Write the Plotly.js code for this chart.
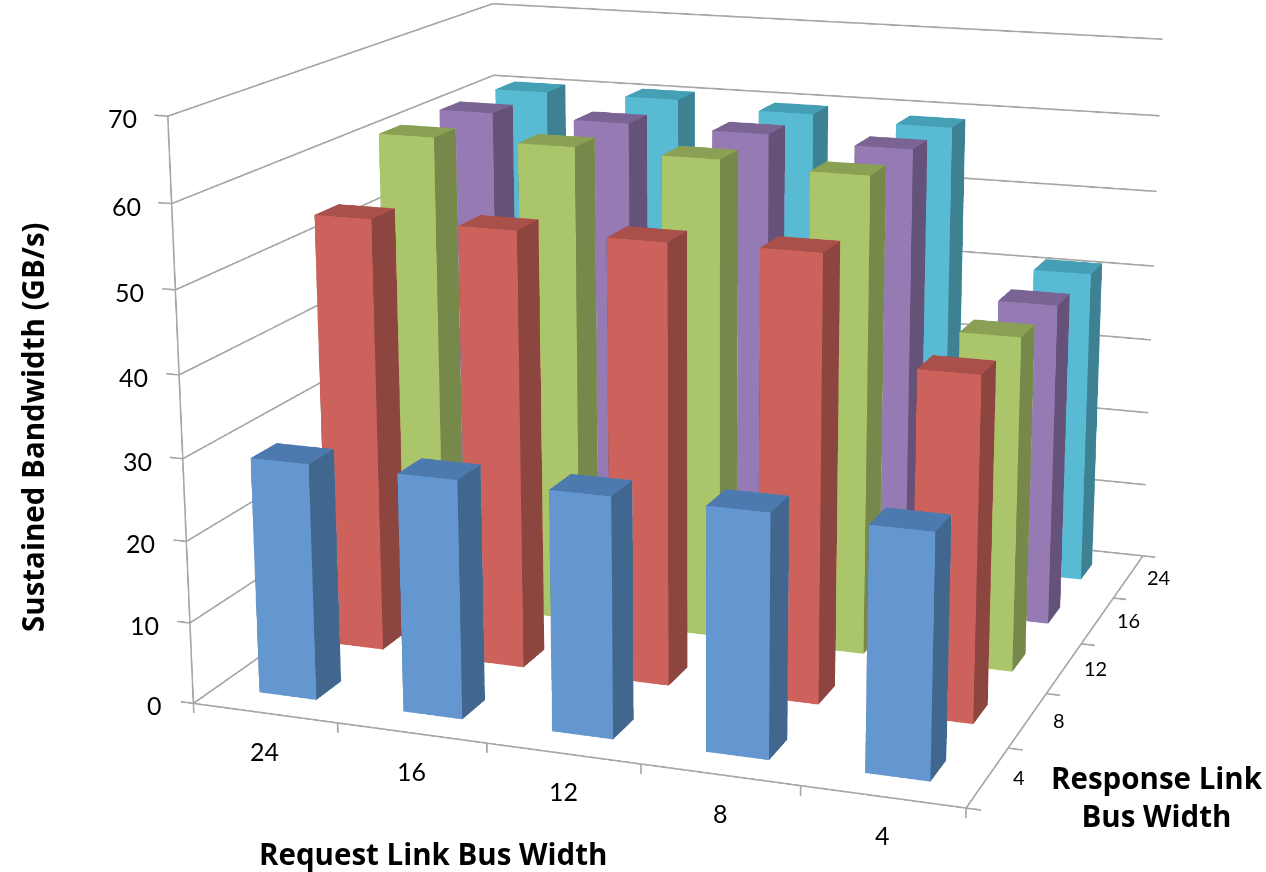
<!DOCTYPE html>
<html>
<head>
<meta charset="utf-8">
<script src="https://cdn.plot.ly/plotly-3.0.1.min.js"></script>
<style>
html,body{margin:0;padding:0;background:#fff;overflow:hidden;width:1266px;height:872px}
#frame{position:absolute;left:0;top:0;width:1266px;height:872px;overflow:hidden}
#plot{position:absolute}
</style>
</head>
<body>
<div id="frame"><div id="plot"></div></div>
<script>
// Sustained bandwidth by request and response link bus width
const requestWidths = ['24','16','12','8','4'];
const responseWidths = ['4','8','12','16','24'];
const resp4  = [29, 29, 29, 29.1, 28.9];
const resp8  = [54.2, 54.2, 54.2, 54.4, 41.8];
const resp12 = [60.8, 60.8, 60.5, 59.8, 41.7];
const resp16 = [60.7, 60.5, 60.3, 59.6, 41.3];
const resp24 = [60.4, 60.5, 59.7, 59.1, 41.2];
const seriesValues = [resp4, resp8, resp12, resp16, resp24];
const frontColors = ['#6497CF','#CD625D','#ABC56A','#957AB4','#58BAD3'];
const sideColors  = ['#41678F','#8D4540','#77894A','#655278','#3D8193'];
const topColors   = ['#4D7AAE','#A9504B','#8AA155','#7A6494','#45A0B6'];
const zTicks = [0,10,20,30,40,50,60,70];

// Long lens: the scene is laid out larger than the visible frame to narrow the field of view
const scale = 3, W = 1266*scale, H = 872*scale;
const centerPx = [700, 364];
const left = centerPx[0]-W/2, top_ = centerPx[1]-H/2;
const plot = document.getElementById('plot');
plot.style.left = left+'px'; plot.style.top = top_+'px';
plot.style.width = W+'px'; plot.style.height = H+'px';
const paperX = px => (px-left)/W, paperY = py => 1-(py-top_)/H;

const halfX = 0.2, halfY = 0.18;
function barMesh(row){
  const x=[],y=[],z=[],i=[],j=[],k=[],fc=[];
  const quad=(a,b,c,d,col)=>{i.push(a,a);j.push(b,c);k.push(c,d);fc.push(col,col);};
  seriesValues[row].forEach((v,col)=>{
    const n=x.length, x0=col+0.5-halfX,x1=col+0.5+halfX,y0=row+0.5-halfY,y1=row+0.5+halfY;
    [[x0,y0,0],[x1,y0,0],[x1,y1,0],[x0,y1,0],[x0,y0,v],[x1,y0,v],[x1,y1,v],[x0,y1,v]]
      .forEach(p=>{x.push(p[0]);y.push(p[1]);z.push(p[2]);});
    quad(n,n+1,n+5,n+4,frontColors[row]);
    quad(n+1,n+2,n+6,n+5,sideColors[row]);
    quad(n+4,n+5,n+6,n+7,topColors[row]);
    quad(n+3,n,n+4,n+7,sideColors[row]);
    quad(n+2,n+3,n+7,n+6,frontColors[row]);
  });
  return {type:'mesh3d',x,y,z,i,j,k,facecolor:fc,flatshading:true,hoverinfo:'skip',showscale:false,
    lighting:{ambient:1,diffuse:0,specular:0,roughness:1,fresnel:0},lightposition:{x:0,y:0,z:1000}};
}

// Walls, floor edges and tick marks as one broken polyline
const nCols = requestWidths.length, nRows = responseWidths.length, zMax = zTicks[zTicks.length-1];
const tickX = 0.09, tickZ = 1.2;
const fx=[],fy=[],fz=[];
const seg=(a,b)=>{fx.push(a[0],b[0],null);fy.push(a[1],b[1],null);fz.push(a[2],b[2],null);};
zTicks.forEach(t=>{
  seg([0,0,t],[0,nRows,t]);
  seg([0,nRows,t],[nCols,nRows,t]);
  seg([-tickX,0,t],[0,0,t]);
});
seg([0,0,0],[0,0,zMax]);
seg([0,0,0],[nCols,0,0]);
seg([nCols,0,0],[nCols,nRows,0]);
for(let c=0;c<=nCols;c++) seg([c,0,0],[c,0,-tickZ]);
for(let r=0;r<=nRows;r++) seg([nCols,r,0],[nCols+tickX,r,0]);
const frameTrace = {type:'scatter3d',mode:'lines',x:fx,y:fy,z:fz,connectgaps:false,hoverinfo:'skip',
  line:{color:'#a6a6a6',width:3}};
const traces = responseWidths.map((_,r)=>barMesh(r)).concat([frameTrace]);

const tickFont = {family:'Lato, sans-serif',size:25,color:'#000'};
const sideFont = {family:'Lato, sans-serif',size:20,color:'#000'};
const labels = [];
zTicks.forEach(t=>labels.push({x:0,y:0,z:t,text:String(t),showarrow:false,xanchor:'right',xshift:-29,yshift:-2,font:tickFont}));
requestWidths.forEach((t,c)=>labels.push({x:c+0.5,y:0,z:0,text:t,showarrow:false,yshift:-38,font:tickFont}));
responseWidths.forEach((t,r)=>labels.push({x:nCols,y:r+0.5,z:0,text:t,showarrow:false,xshift:31,font:sideFont}));

const titleFont = {family:'"Open Sans", sans-serif',size:29.5,weight:700,color:'#000'};
const paperNote = (px,py,text,angle)=>({xref:'paper',yref:'paper',x:paperX(px),y:paperY(py),xanchor:'center',yanchor:'middle',
  text,textangle:angle||0,showarrow:false,font:titleFont,align:'center'});

const axisBase = {showbackground:false,showgrid:false,zeroline:false,showspikes:false,showticklabels:false,title:{text:''},
  showline:false,ticks:''};
const layout = {
  width:W,height:H,margin:{l:0,r:0,t:0,b:0},paper_bgcolor:'#fff',showlegend:false,
  annotations:[
    paperNote(32,427,'Sustained Bandwidth (GB/s)',-90),
    paperNote(433,853,'Request Link Bus Width'),
    paperNote(1157,796,'Response Link<br>Bus Width')
  ],
  scene:{
    domain:{x:[0,1],y:[0,1]},
    aspectmode:'manual',aspectratio:{x:0.91,y:0.86,z:0.665},
    camera:{eye:{x:1.135,y:-3.188,z:0.894},center:{x:0,y:0,z:0},up:{x:0,y:0,z:1}},
    xaxis:Object.assign({},axisBase,{range:[-0.2,5.2]}),
    yaxis:Object.assign({},axisBase,{range:[-0.1,5.1]}),
    zaxis:Object.assign({},axisBase,{range:[-3,71]}),
    annotations:labels
  }
};
Plotly.newPlot(plot,traces,layout,{displayModeBar:false});
</script>
</body>
</html>
